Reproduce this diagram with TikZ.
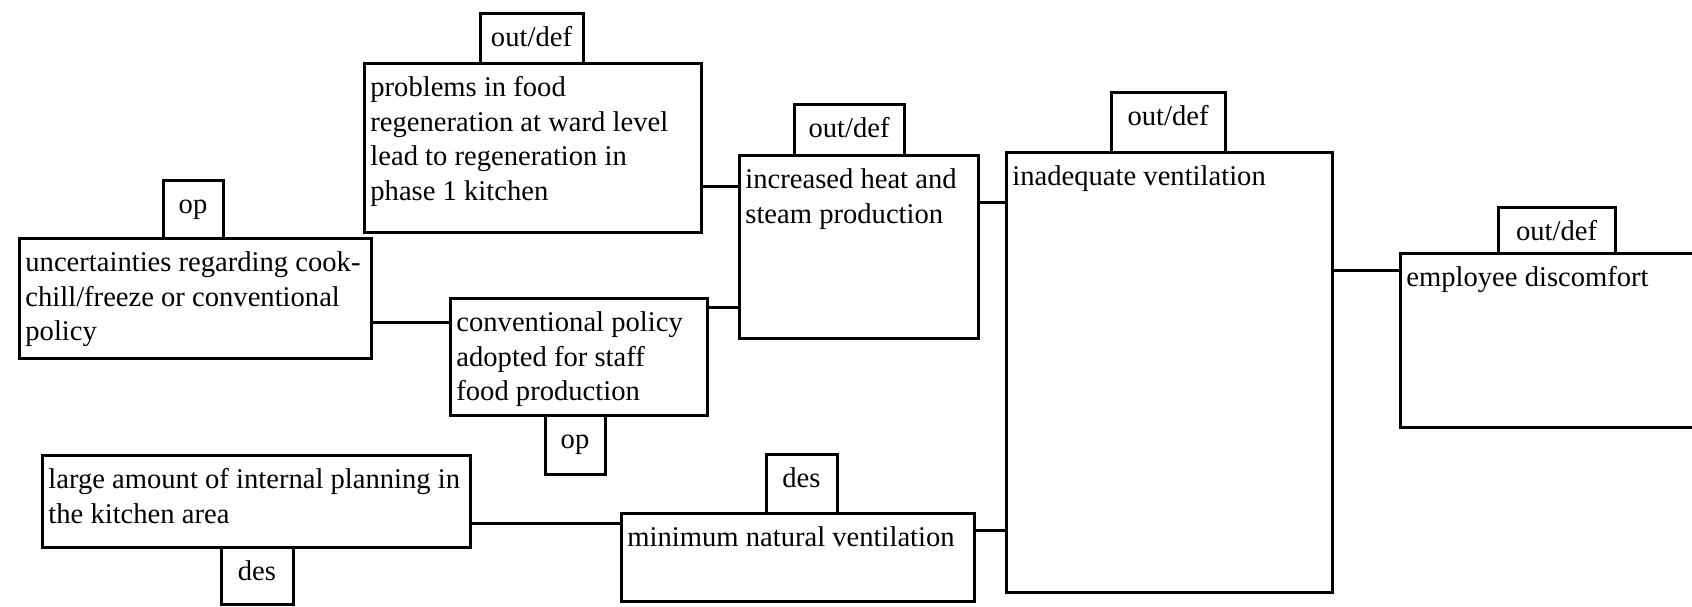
\documentclass[tikz,border=0pt]{standalone}
\usepackage{fontspec}
\setmainfont{Liberation Serif}
\usetikzlibrary{fit}
% strut that fixes the first baseline below the top edge of a box
\newcommand{\firststrut}{\rule{0pt}{16.5pt}}

\begin{document}
\begin{tikzpicture}[x=0.5pt,y=-0.5pt,
  box/.style={draw, line width=1.5pt, inner sep=0pt, outer sep=0pt},
  tag/.style={box},
  conn/.style={line width=1.5pt},
  txt/.style={anchor=north west, inner sep=0pt, align=left,
              font=\fontsize{14.3}{17.3}\selectfont},
  tagtxt/.style={anchor=north, inner sep=0pt,
                 font=\fontsize{14.3}{17.3}\selectfont}]
\useasboundingbox (0,0) rectangle (1692,606);

% cause boxes
\node[box, fit={(364,63) (701,232)}] (P) {};
\node[box, fit={(19,238) (371,358)}] (U) {};
\node[box, fit={(450,298) (707,415)}] (C) {};
\node[box, fit={(739,155) (978,338)}] (H) {};
\node[box, fit={(1006,152) (1332,592)}] (V) {};
\node[box, fit={(1400,253) (1712,427)}] (E) {};
\node[box, fit={(42,455) (470,547)}] (L) {};
\node[box, fit={(621,513) (974,601)}] (M) {};

% category tags
\node[tag, fit={(480,13) (583,63)}] (tP) {};
\node[tag, fit={(163,180) (223,238)}] (tU) {};
\node[tag, fit={(545,415) (605,474)}] (tC) {};
\node[tag, fit={(794,104) (904,155)}] (tH) {};
\node[tag, fit={(1111,92) (1225,152)}] (tV) {};
\node[tag, fit={(1498,207) (1615,253)}] (tE) {};
\node[tag, fit={(221,547) (293,604)}] (tL) {};
\node[tag, fit={(766,454) (837,513)}] (tM) {};

% box texts
\node[txt] (xP) at ([xshift=3pt]P.north west) {\firststrut problems in food\\regeneration at ward level\\lead to regeneration in\\phase 1 kitchen};
\node[txt] (xU) at ([xshift=3pt]U.north west) {\firststrut uncertainties regarding cook-\\chill/freeze or conventional\\policy};
\node[txt] (xC) at ([xshift=3pt]C.north west) {\firststrut conventional policy\\adopted for staff\\food production};
\node[txt] (xH) at ([xshift=3pt]H.north west) {\firststrut increased heat and\\steam production};
\node[txt] (xV) at ([xshift=3pt]V.north west) {\firststrut inadequate ventilation};
\node[txt] (xE) at ([xshift=3pt]E.north west) {\firststrut employee discomfort};
\node[txt] (xL) at ([xshift=3pt]L.north west) {\firststrut large amount of internal planning in\\the kitchen area};
\node[txt] (xM) at ([xshift=3pt]M.north west) {\firststrut minimum natural ventilation};

% tag texts
\node[tagtxt] (ytP) at (tP.north) {\firststrut out/def};
\node[tagtxt] (ytU) at (tU.north) {\firststrut op};
\node[tagtxt] (ytC) at (tC.north) {\firststrut op};
\node[tagtxt] (ytH) at (tH.north) {\firststrut out/def};
\node[tagtxt] (ytV) at (tV.north) {\firststrut out/def};
\node[tagtxt] (ytE) at (tE.north) {\firststrut out/def};
\node[tagtxt] (ytL) at (tL.north) {\firststrut des};
\node[tagtxt] (ytM) at (tM.north) {\firststrut des};

% links
\draw[conn] (P.east |- 0,186) -- (H.west |- 0,186);
\draw[conn] (U.east |- 0,322) -- (C.west |- 0,322);
\draw[conn] (C.east |- 0,307) -- (H.west |- 0,307);
\draw[conn] (H.east |- 0,202) -- (V.west |- 0,202);
\draw[conn] (V.east |- 0,270) -- (E.west |- 0,270);
\draw[conn] (L.east |- 0,523) -- (M.west |- 0,523);
\draw[conn] (M.east |- 0,530) -- (V.west |- 0,530);
\end{tikzpicture}
\end{document}
